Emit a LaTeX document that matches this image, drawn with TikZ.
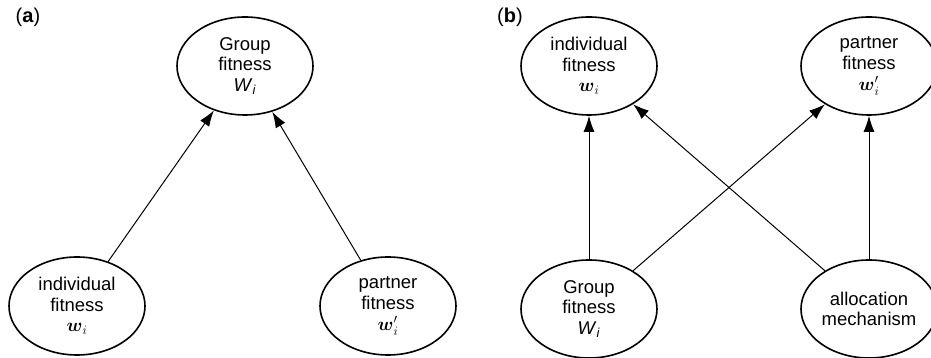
\RequirePackage{fix-cm}
\documentclass[tikz,border=0pt]{standalone}
\usepackage{fontspec}
\setmainfont{Liberation Sans}
\usepackage{amsmath,amssymb}
\usetikzlibrary{shapes.geometric,arrows.meta}
\begin{document}
\begin{tikzpicture}[x=1pt,y=1pt,
  fit/.style={ellipse,draw,line width=1.6pt,minimum width=136pt,minimum height=98pt,
    inner sep=0pt,align=center,font=\fontsize{18.5}{20.5}\selectfont},
  arr/.style={-{Latex[length=16pt,width=11pt]},line width=1pt},
  panel/.style={font=\fontsize{20}{22}\selectfont}]
\useasboundingbox (0,0) rectangle (931,358);
\node[panel](la) at (28,341){(\textbf{a})};
\node[fit](Ga) at (245,292){Group\\fitness\\\textit{W}\textsubscript{\textit{i}}};
\node[fit](ia) at (77,52){individual\\fitness\\$\boldsymbol{w}_i$};
\node[fit](pa) at (388,52){partner\\fitness\\[1pt]$\boldsymbol{w}'_i$};
\draw[arr] (ia) -- (Ga);
\draw[arr] (pa) -- (Ga);
\node[panel](lb) at (510,341){(\textbf{b})};
\node[fit](ib) at (589,292){individual\\fitness\\$\boldsymbol{w}_i$};
\node[fit](pb) at (869,292){partner\\fitness\\[1pt]$\boldsymbol{w}'_i$};
\node[fit](Gb) at (589,49){Group\\fitness\\\textit{W}\textsubscript{\textit{i}}};
\node[fit](ab) at (869,49){allocation\\mechanism};
\draw[arr] (Gb) -- (ib);
\draw[arr] (Gb) -- (pb);
\draw[arr] (ab) -- (ib);
\draw[arr] (ab) -- (pb);
\end{tikzpicture}
\end{document}
